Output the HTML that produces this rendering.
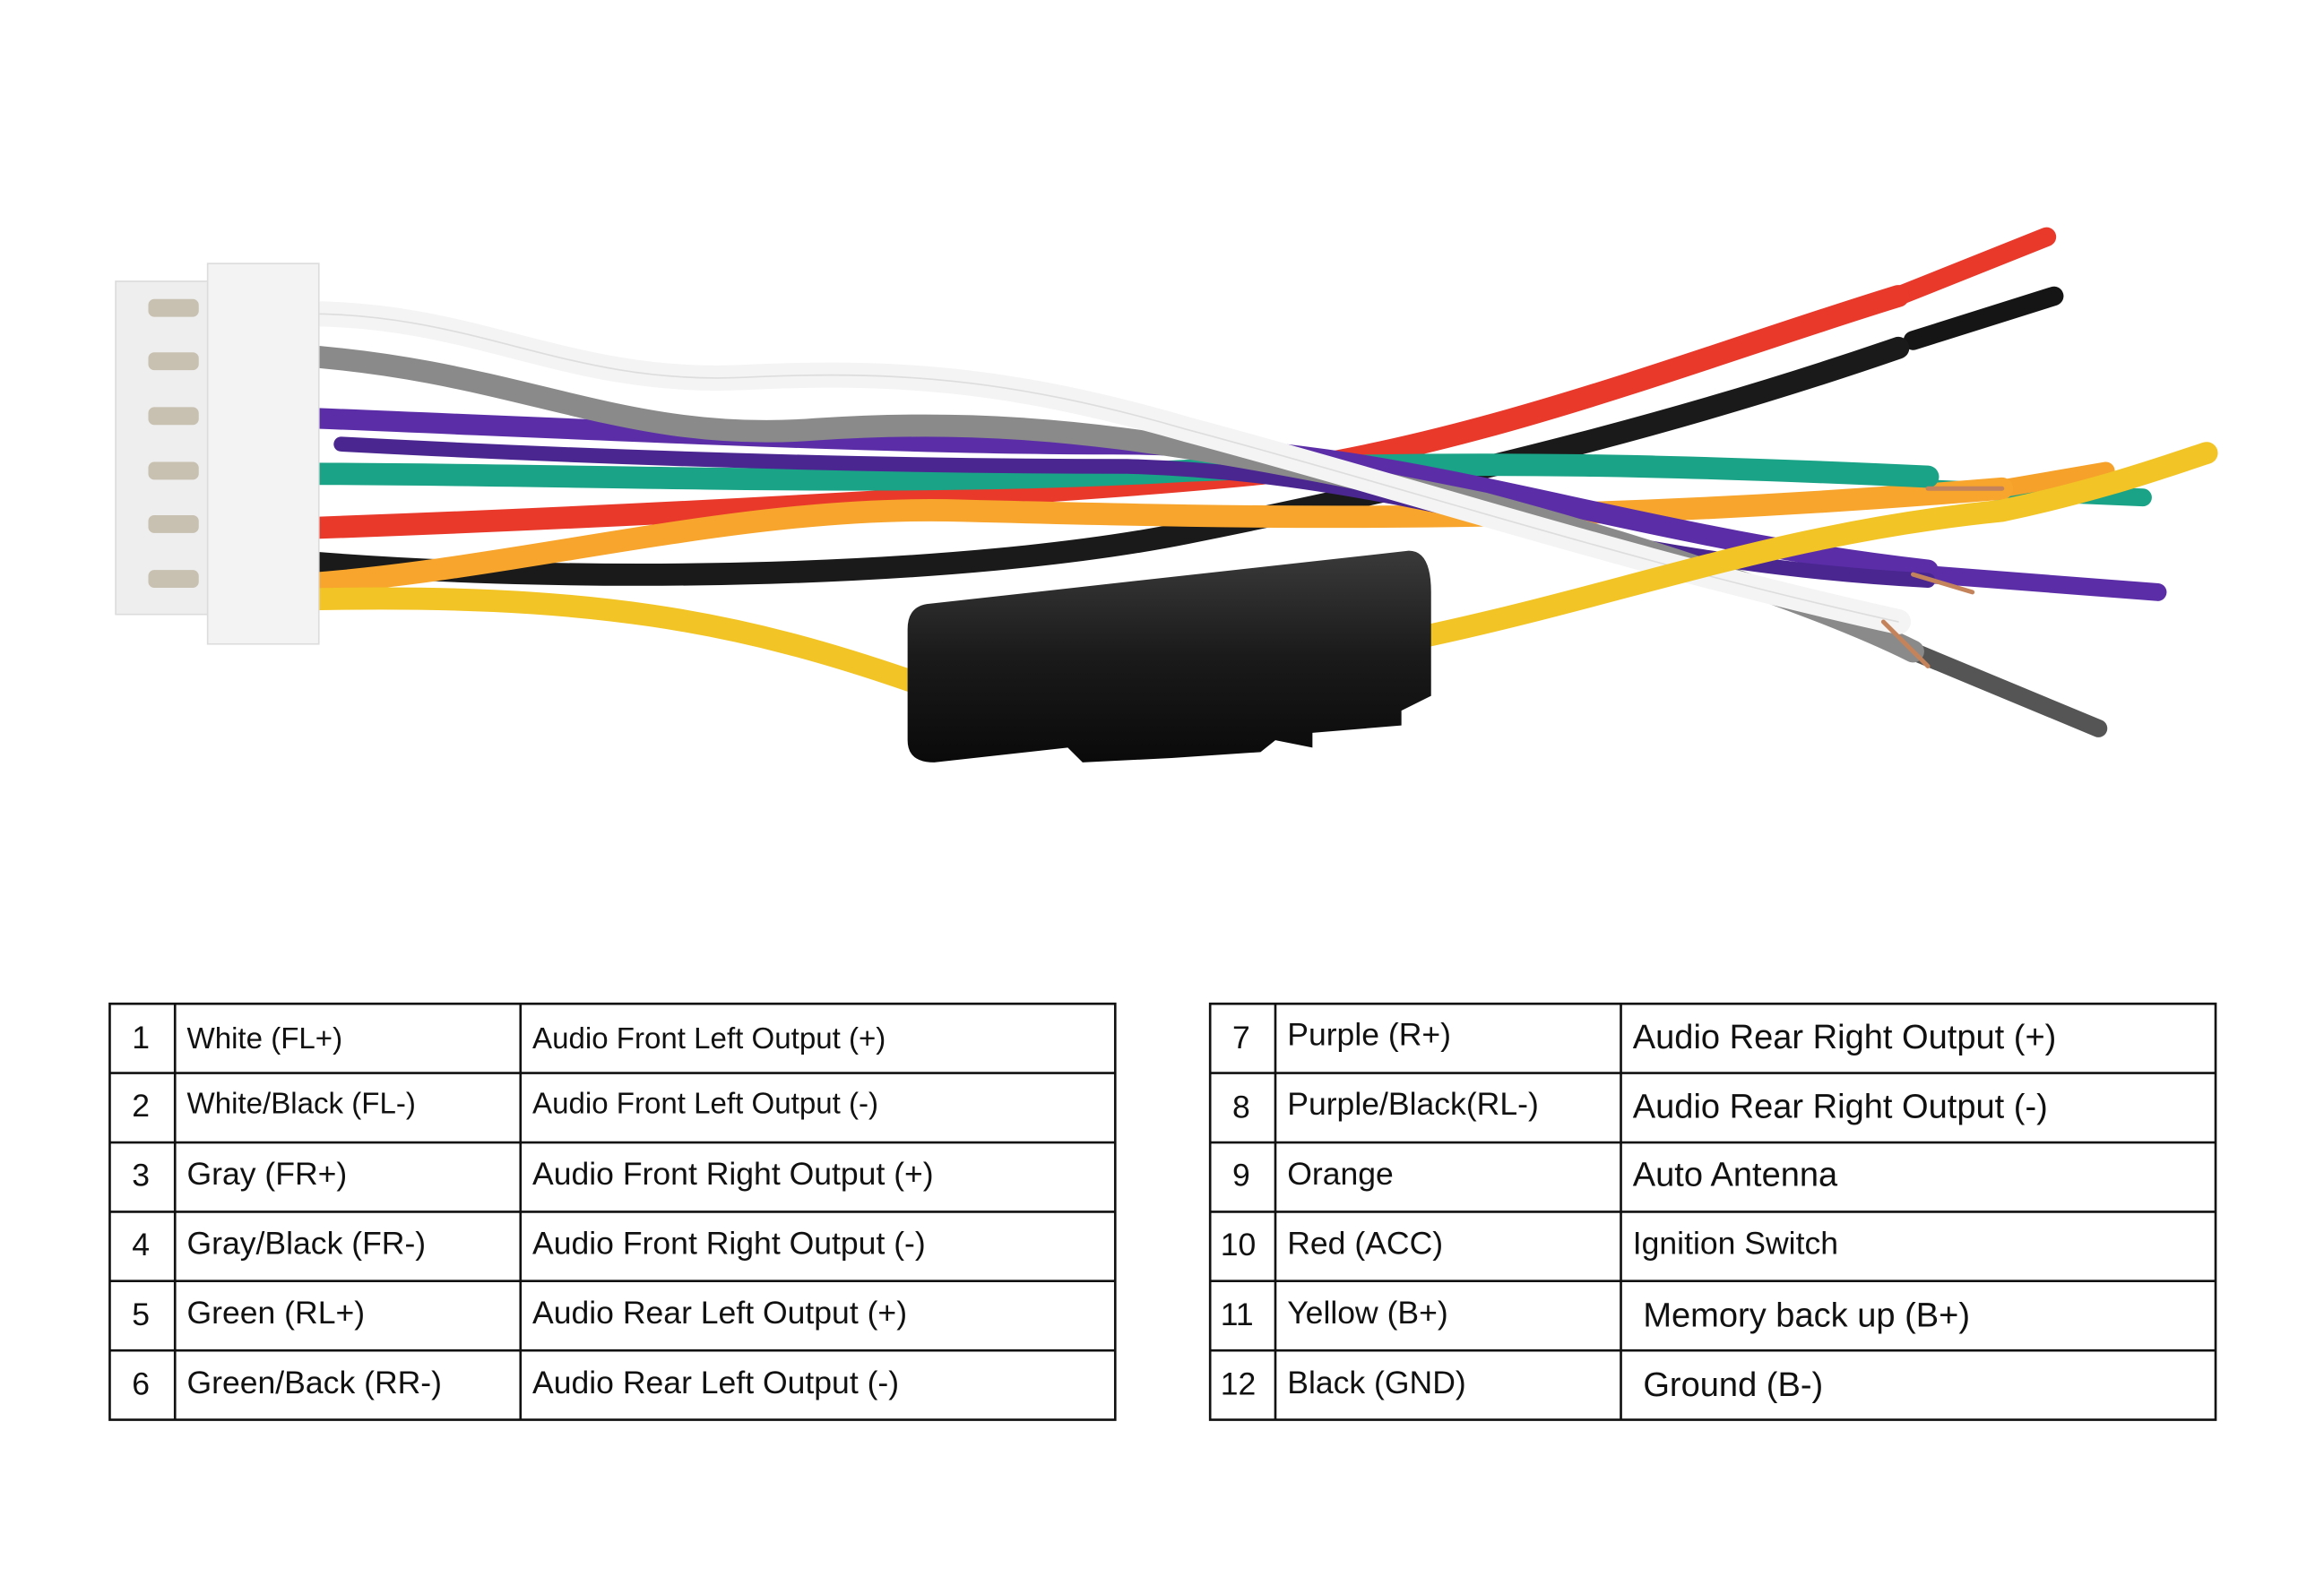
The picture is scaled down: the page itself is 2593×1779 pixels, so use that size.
<!DOCTYPE html>
<html><head><meta charset="utf-8"><style>
html,body{margin:0;padding:0;background:#fff;width:2593px;height:1779px;overflow:hidden}
svg{display:block}
text{font-family:"Liberation Sans",sans-serif;font-size:21.5px;fill:#111}
</style></head><body>
<svg width="2593" height="1779" viewBox="0 0 1553 1067" preserveAspectRatio="none">
<defs>
<linearGradient id="fz" x1="0" y1="0" x2="0" y2="1"><stop offset="0" stop-color="#3a3a3a"/><stop offset="0.5" stop-color="#1a1a1a"/><stop offset="1" stop-color="#0a0a0a"/></linearGradient>
</defs>
<g transform="scale(0.991)">
<g fill="none" stroke-linecap="round">
<path d="M1280,200 L1380,160" stroke="#e8392b" stroke-width="13"/>
<path d="M1290,230 L1385,200" stroke="#151515" stroke-width="13"/>
<path d="M1300,330 L1445,336" stroke="#1aa386" stroke-width="12"/>
<path d="M1300,388 L1455,400" stroke="#5b2ea8" stroke-width="12"/>
<path d="M1290,440 L1415,492" stroke="#555" stroke-width="12"/>
<path d="M1350,330 L1420,318" stroke="#f5a12a" stroke-width="12"/>
<path d="M210,380 C400,395 650,390 800,360 C1000,320 1150,280 1280,235" stroke="#1a1a1a" stroke-width="15"/>
<path d="M200,357 C400,350 700,335 850,320 C1000,300 1150,240 1280,200" stroke="#e8392b" stroke-width="15"/>
<path d="M200,395 C350,385 500,340 650,345 C850,350 1050,355 1350,330" stroke="#f7a52d" stroke-width="15"/>
<path d="M200,320 C400,320 600,330 800,318 C1000,310 1150,315 1300,322" stroke="#1aa386" stroke-width="15"/>
<path d="M200,282 C400,290 600,300 750,300 C950,300 1080,360 1300,385" stroke="#5b2ea8" stroke-width="14"/>
<path d="M230,300 C420,310 600,315 760,315 C950,320 1070,380 1300,392" stroke="#4a2690" stroke-width="10"/>
<path d="M200,240 C350,250 420,300 550,290 C700,280 800,300 1000,340 C1150,380 1250,420 1290,440" stroke="#8a8a8a" stroke-width="15"/>
<path d="M200,212 C320,210 380,260 500,255 C600,250 680,255 800,290 C950,330 1100,380 1280,420" stroke="#f4f4f4" stroke-width="17"/>
<path d="M200,212 C320,210 380,260 500,255 C600,250 680,255 800,290 C950,330 1100,380 1280,420" stroke="#ddd" stroke-width="1"/>
<path d="M200,405 C400,400 500,420 620,462" stroke="#f2c425" stroke-width="15"/>
<path d="M960,430 C1100,400 1200,360 1350,345 C1420,330 1460,315 1488,306" stroke="#f2c425" stroke-width="15"/>
<path d="M1300,330 L1350,330 M1290,388 L1330,400 M1270,420 L1300,450" stroke="#c4835a" stroke-width="3"/>
</g>
<path d="M625,408 L950,372 Q965,372 965,400 L965,470 L945,480 L945,490 L885,495 L885,505 L860,500 L850,508 L790,512 L730,515 L720,505 L630,515 Q612,515 612,500 L612,425 Q612,410 625,408Z" fill="url(#fz)"/>
<rect x="78" y="190" width="70" height="225" fill="#eeeeee" stroke="#dcdcdc"/>
<rect x="140" y="178" width="75" height="257" fill="#f3f3f3" stroke="#dcdcdc"/>
<g fill="#c8c0b0"><rect x="100" y="202" width="34" height="12" rx="4"/><rect x="100" y="238" width="34" height="12" rx="4"/><rect x="100" y="275" width="34" height="12" rx="4"/><rect x="100" y="312" width="34" height="12" rx="4"/><rect x="100" y="348" width="34" height="12" rx="4"/><rect x="100" y="385" width="34" height="12" rx="4"/></g>
<g stroke="#111" stroke-width="1.6" fill="none">
<rect x="74" y="678" width="678" height="281"/>
<line x1="118" y1="678" x2="118" y2="959"/><line x1="351" y1="678" x2="351" y2="959"/>
<line x1="74" y1="724.8" x2="752" y2="724.8"/><line x1="74" y1="771.7" x2="752" y2="771.7"/><line x1="74" y1="818.5" x2="752" y2="818.5"/><line x1="74" y1="865.3" x2="752" y2="865.3"/><line x1="74" y1="912.2" x2="752" y2="912.2"/>
<rect x="816" y="678" width="678" height="281"/>
<line x1="860" y1="678" x2="860" y2="959"/><line x1="1093" y1="678" x2="1093" y2="959"/>
<line x1="816" y1="724.8" x2="1494" y2="724.8"/><line x1="816" y1="771.7" x2="1494" y2="771.7"/><line x1="816" y1="818.5" x2="1494" y2="818.5"/><line x1="816" y1="865.3" x2="1494" y2="865.3"/><line x1="816" y1="912.2" x2="1494" y2="912.2"/>
</g>
<g>
<text x="89" y="708">1</text><text x="126" y="708" style="font-size:20px">White (FL+)</text><text x="359" y="708" style="font-size:20px">Audio Front Left Output (+)</text>
<text x="89" y="754">2</text><text x="126" y="752" style="font-size:20px">White/Black (FL-)</text><text x="359" y="752" style="font-size:20px">Audio Front Left Output (-)</text>
<text x="89" y="801">3</text><text x="126" y="800">Gray (FR+)</text><text x="359" y="800">Audio Front Right Output (+)</text>
<text x="89" y="848">4</text><text x="126" y="847">Gray/Black (FR-)</text><text x="359" y="847">Audio Front Right Output (-)</text>
<text x="89" y="895">5</text><text x="126" y="894">Green (RL+)</text><text x="359" y="894">Audio Rear Left Output (+)</text>
<text x="89" y="942">6</text><text x="126" y="941">Green/Back (RR-)</text><text x="359" y="941">Audio Rear Left Output (-)</text>
<text x="831" y="708">7</text><text x="868" y="706">Purple (R+)</text><text x="1101" y="708" style="font-size:23px">Audio Rear Right Output (+)</text>
<text x="831" y="755">8</text><text x="868" y="753">Purple/Black(RL-)</text><text x="1101" y="755" style="font-size:23px">Audio Rear Right Output (-)</text>
<text x="831" y="801">9</text><text x="868" y="800">Orange</text><text x="1101" y="801" style="font-size:23px">Auto Antenna</text>
<text x="823" y="848">10</text><text x="868" y="847">Red (ACC)</text><text x="1101" y="847">Ignition Switch</text>
<text x="823" y="895">11</text><text x="868" y="894">Yellow (B+)</text><text x="1108" y="896" style="font-size:23px">Memory back up (B+)</text>
<text x="823" y="942">12</text><text x="868" y="941">Black (GND)</text><text x="1108" y="943" style="font-size:23px">Ground (B-)</text>
</g>
</g>
</svg>
</body></html>
